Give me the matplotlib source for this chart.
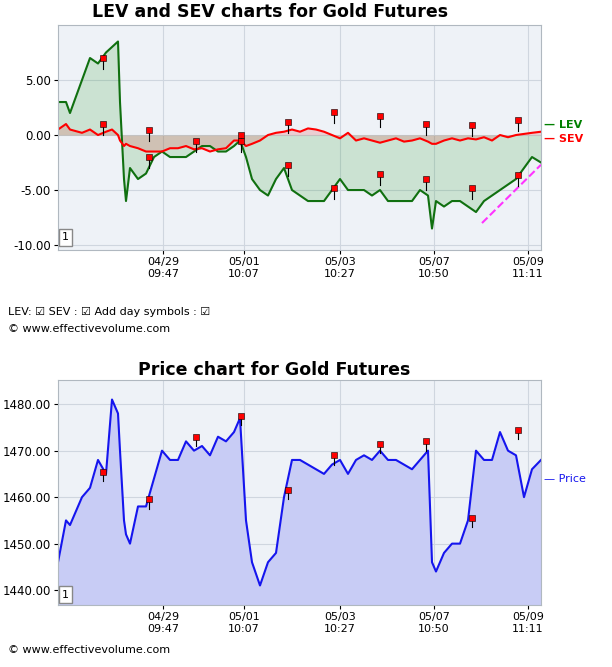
import matplotlib
matplotlib.use("Agg")
import matplotlib.pyplot as plt

# time index (chart units)
t = [0,8,12,24,32,40,48,54,60,62,66,68,72,80,88,96,104,112,120,128,136,144,152,160,168,176,182,188,194,202,210,218,226,234,242,250,258,266,274,282,290,298,306,314,322,330,338,346,354,362,370,374,378,386,394,402,410,418,426,434,442,450,458,466,474,483]
lev = [3,3,2,5,7,6.5,7.5,8,8.5,3,-4,-6,-3,-4,-3.5,-2,-1.5,-2,-2,-2,-1.5,-1,-1,-1.5,-1.5,-1,-0.5,-2,-4,-5,-5.5,-4,-3,-5,-5.5,-6,-6,-6,-5,-4,-5,-5,-5,-5.5,-5,-6,-6,-6,-6,-5,-5.5,-8.5,-6,-6.5,-6,-6,-6.5,-7,-6,-5.5,-5,-4.5,-4,-3,-2,-2.5]
sev = [0.5,1,0.5,0.2,0.5,0,0.3,0.5,0,-0.5,-1,-0.8,-1,-1.2,-1.5,-1.5,-1.5,-1.2,-1.2,-1,-1.3,-1.2,-1.5,-1.3,-1.2,-0.5,-0.5,-1,-0.8,-0.5,0,0.2,0.3,0.5,0.3,0.6,0.5,0.3,0,-0.3,0.2,-0.5,-0.3,-0.5,-0.7,-0.5,-0.3,-0.6,-0.5,-0.3,-0.6,-0.8,-0.8,-0.5,-0.3,-0.5,-0.3,-0.4,-0.2,-0.5,0,-0.2,0,0.1,0.2,0.3]
price = [1446,1455,1454,1460,1462,1468,1465,1481,1478,1470,1455,1452,1450,1458,1458,1464,1470,1468,1468,1472,1470,1471,1469,1473,1472,1474,1477,1455,1446,1441,1446,1448,1460,1468,1468,1467,1466,1465,1467,1468,1465,1468,1469,1468,1470,1468,1468,1467,1466,1468,1470,1446,1444,1448,1450,1450,1455,1470,1468,1468,1474,1470,1469,1460,1466,1468]

xtick_pos = [105,186,282,376,470]
xtick_labels = ["04/29\n09:47","05/01\n10:07","05/03\n10:27","05/07\n10:50","05/09\n11:11"]

ev_marks_x = [45,45,91,91,138,183,183,230,230,276,276,322,322,368,368,414,414,460,460]
ev_marks_y = [7.0,1.0,0.5,-2.0,-0.5,0.0,-0.5,1.2,-2.7,2.1,-4.8,1.7,-3.5,1.0,-4.0,0.9,-4.8,1.4,-3.6]
pr_marks_x = [45,91,138,183,230,276,322,368,414,460]
pr_marks_y = [1465.5,1459.5,1473,1477.5,1461.5,1469,1471.5,1472,1455.5,1474.5]

trend_x = [424,483]
trend_y = [-8.0,-2.7]

BG = "#eef2f7"
fig = plt.figure(figsize=(6.12,6.67), dpi=100)

def style(ax, ylim, yticks):
    ax.set_facecolor(BG)
    ax.set_xlim(0,483)
    ax.set_ylim(*ylim)
    ax.set_yticks(yticks)
    ax.set_yticklabels([f"{v:.2f}" for v in yticks], fontsize=8.5)
    ax.set_xticks(xtick_pos)
    ax.set_xticklabels(xtick_labels, fontsize=8)
    ax.grid(True, color="#cfd6df", lw=0.8)
    ax.set_axisbelow(True)
    for s in ax.spines.values():
        s.set_color("#b0b8c0")
    ax.tick_params(length=3, pad=2, colors="black")

def marks(ax, xs, ys, h):
    for x, y in zip(xs, ys):
        ax.plot([x,x],[y-h,y], color="black", lw=0.8, zorder=4)
    ax.scatter(xs, ys, marker="s", s=14, color="red", edgecolor="black", linewidths=0.4, zorder=5)

ax1 = fig.add_axes([58/612, 1-250/667, 483/612, 225/667])
style(ax1, (-10.45, 10.0), [5,0,-5,-10])
ax1.fill_between(t, lev, 0, color="#2e9a2e", alpha=0.18, lw=0)
ax1.fill_between(t, sev, 0, color="#e04040", alpha=0.2, lw=0)
ax1.plot(t, lev, color="#107010", lw=1.5)
ax1.plot(t, sev, color="red", lw=1.5)
ax1.plot(trend_x, trend_y, color="#ff33ff", lw=1.5, ls="--")
marks(ax1, ev_marks_x, ev_marks_y, 1.0)
ax1.text(486, 0.9, "— LEV", color="green", fontsize=8, fontweight="bold", va="center", clip_on=False)
ax1.text(486, -0.35, "— SEV", color="red", fontsize=8, fontweight="bold", va="center", clip_on=False)
ax1.text(4, -9.3, "1", fontsize=8, va="center", bbox=dict(fc="white", ec="#888888", pad=2, boxstyle="square,pad=0.3"))
fig.text(270/612, 1-12/667, "LEV and SEV charts for Gold Futures", ha="center", va="center", fontsize=12.5, fontweight="bold")

ax2 = fig.add_axes([58/612, 1-605/667, 483/612, 225/667])
style(ax2, (1436.8, 1485.2), [1480,1470,1460,1450,1440])
ax2.fill_between(t, price, 1436.8, color="#c8ccf5", lw=0)
ax2.plot(t, price, color="#1515ee", lw=1.5)
marks(ax2, pr_marks_x, pr_marks_y, 2.0)
ax2.text(486, 1464, "— Price", color="#1515ee", fontsize=8, va="center", clip_on=False)
ax2.text(4, 1439, "1", fontsize=8, va="center", bbox=dict(fc="white", ec="#888888", pad=2, boxstyle="square,pad=0.3"))
fig.text(274/612, 1-370/667, "Price chart for Gold Futures", ha="center", va="center", fontsize=12.5, fontweight="bold")

fig.text(8/612, 1-312/667, "LEV: \u2611 SEV : \u2611 Add day symbols : \u2611", fontsize=8, va="center")
fig.text(8/612, 1-329/667, "© www.effectivevolume.com", fontsize=8, va="center")
fig.text(8/612, 1-650/667, "© www.effectivevolume.com", fontsize=8, va="center")

fig.savefig("out.png", dpi=100)
